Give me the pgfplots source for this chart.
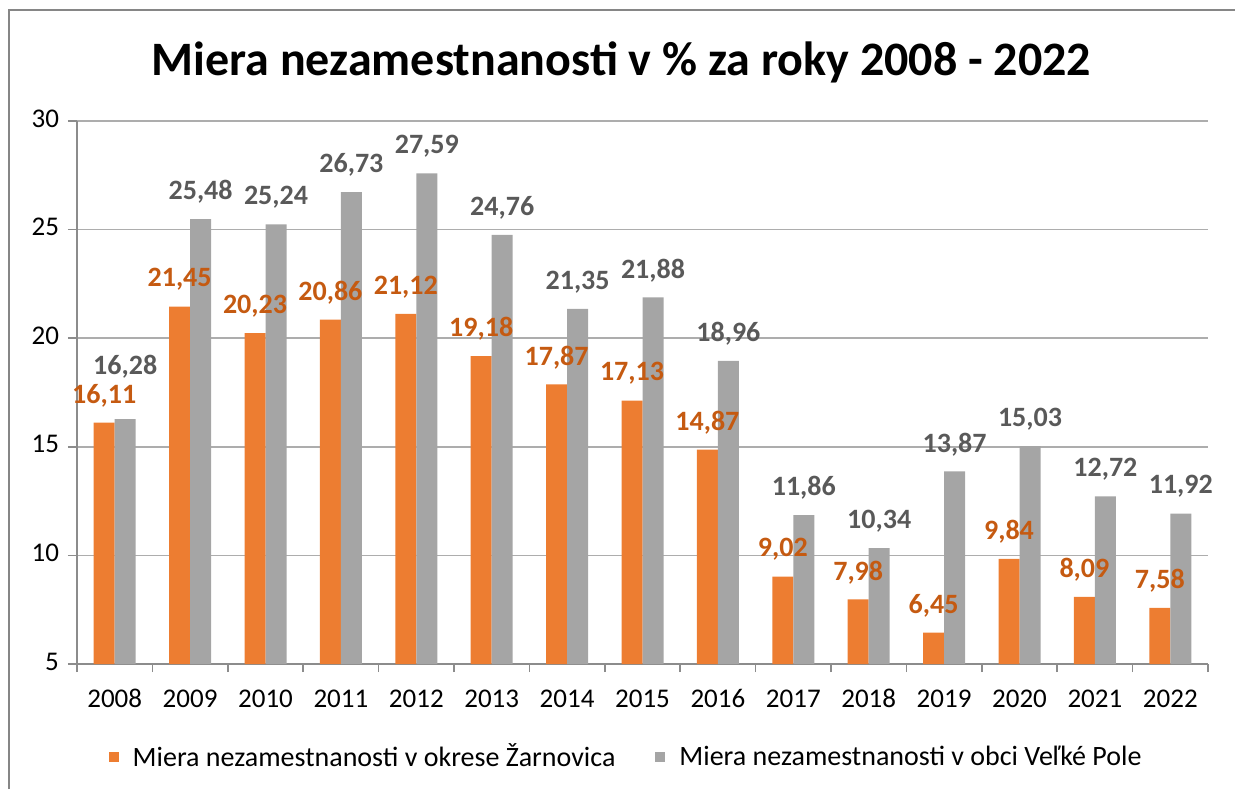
\documentclass[border=0pt]{standalone}
\usepackage{pgfplots}
\pgfplotsset{compat=1.18}
\usepackage{pgfplotstable}
\usepackage{fontspec}
\setmainfont{Carlito}
\definecolor{cOr}{HTML}{ED7D31}
\definecolor{cGr}{HTML}{A5A5A5}
\definecolor{cOrT}{HTML}{C55A11}
\definecolor{cGrT}{HTML}{595959}
\definecolor{cAx}{HTML}{8C8C8C}
\definecolor{cGrid}{HTML}{ADADAD}
\definecolor{cFrame}{HTML}{868686}

\pgfplotstableread{
x o g dy
0 16.11 16.28 12.5
1 21.45 25.48 0
2 20.23 25.24 0
3 20.86 26.73 0
4 21.12 27.59 0
5 19.18 24.76 0
6 17.87 21.35 0
7 17.13 21.88 0
8 14.87 18.96 0
9 9.02 11.86 0
10 7.98 10.34 0
11 6.45 13.87 0
12 9.84 15.03 0
13 8.09 12.72 0
14 7.58 11.92 0
}\data

\begin{document}
\begin{tikzpicture}[x=1pt,y=1pt]
\useasboundingbox (0,0) rectangle (617.5,394.5);
\draw[cFrame, line width=1pt] (4.25,0) -- (4.25,389.25) -- (617.5,389.25);
\node[font=\bfseries\fontsize{24}{28}\selectfont] at (310.75,363.5) {Miera nezamestnanosti v \% za roky 2008 - 2022};
\begin{axis}[
  at={(38.5pt,62.5pt)}, anchor=south west,
  scale only axis, width=565.5pt, height=271.5pt,
  xmin=-0.5, xmax=14.5, ymin=5, ymax=30,
  ybar=0pt, bar width=10.5pt,
  axis x line*=bottom, axis y line*=left,
  axis line style={cAx, line width=0.8pt},
  xtick={0,...,14},
  xticklabels={2008,2009,2010,2011,2012,2013,2014,2015,2016,2017,2018,2019,2020,2021,2022},
  minor xtick={-0.5,0.5,...,14.5},
  ytick={5,10,...,30},
  tick align=outside,
  x tick style={draw=none},
  minor x tick style={draw=cAx, line width=0.8pt},
  minor tick length=4pt,
  y tick style={cAx, line width=0.8pt},
  major tick length=4.5pt,
  ymajorgrids, grid style={cGrid, line width=0.8pt},
  tick label style={font=\fontsize{13.5}{15}\selectfont, text=black},
  typeset ticklabels with strut,
  /pgf/number format/assume math mode=true,
  xticklabel style={yshift=-3pt},
  yticklabel style={xshift=-1pt},
  nodes near coords,
  nodes near coords style={font=\bfseries\fontsize{14}{16}\selectfont, anchor=center,
     /pgf/number format/fixed, /pgf/number format/fixed zerofill,
     /pgf/number format/precision=2, /pgf/number format/use comma,
     /pgf/number format/assume math mode=true},
  legend style={draw=none, at={(axis description cs:0.4908,-0.1713)}, anchor=center,
    legend columns=2, font=\fontsize{14}{16}\selectfont,
    /tikz/every even column/.append style={column sep=13pt},
    nodes={inner xsep=7pt}},
  legend image code/.code={\fill[#1] (0pt,-2.5pt) rectangle (5pt,2.5pt);},
]
\addplot[fill=cOr, draw=none, every node near coord/.append style={text=cOrT, yshift=13.5pt}]
  table[x=x, y=o] {\data};
\addplot[fill=cGr, draw=none,
  visualization depends on={\thisrow{dy} \as \dy},
  every node near coord/.append style={text=cGrT, yshift=13.5pt+\dy pt}]
  table[x=x, y=g] {\data};
\legend{Miera nezamestnanosti v okrese Žarnovica, Miera nezamestnanosti v obci Veľké Pole}
\end{axis}
\end{tikzpicture}
\end{document}
